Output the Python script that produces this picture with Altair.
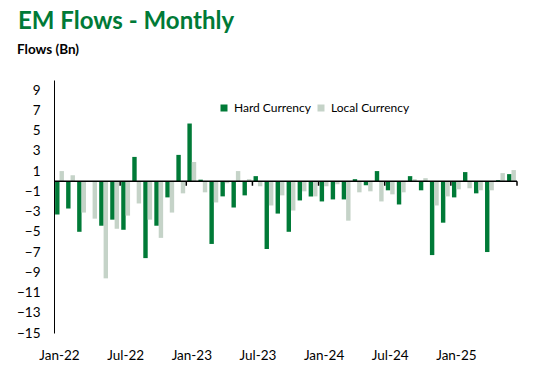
import altair as alt
import pandas as pd

months = ["Jan-22","Feb-22","Mar-22","Apr-22","May-22","Jun-22","Jul-22","Aug-22","Sep-22","Oct-22","Nov-22","Dec-22",
          "Jan-23","Feb-23","Mar-23","Apr-23","May-23","Jun-23","Jul-23","Aug-23","Sep-23","Oct-23","Nov-23","Dec-23",
          "Jan-24","Feb-24","Mar-24","Apr-24","May-24","Jun-24","Jul-24","Aug-24","Sep-24","Oct-24","Nov-24","Dec-24",
          "Jan-25","Feb-25","Mar-25","Apr-25","May-25","Jun-25"]
hard = [-3.3, -2.7, -5.0, 0.0, -4.4, -3.8, -4.8, 2.4, -7.6, -4.4, -1.6, 2.6,
        5.7, 0.15, -6.2, -1.5, -2.6, -1.4, 0.5, -6.7, -3.2, -5.0, -1.9, -1.5,
        -2.0, -1.8, -1.8, 0.2, -0.4, 1.0, -0.9, -2.3, 0.5, -0.9, -7.3, -4.1,
        -1.6, 0.9, -1.2, -7.0, 0.1, 0.7]
local = [1.0, 0.6, -3.1, -3.7, -9.6, -4.7, -3.4, -2.2, -3.8, -5.6, -3.1, -1.2,
         1.9, -1.1, -2.1, -0.2, 1.0, 0.2, -0.5, -2.4, -1.4, -2.9, -1.0, -1.5,
         -0.5, -0.3, -3.9, -1.1, -1.0, -2.0, -1.3, -1.1, 0.2, 0.3, -2.4, -1.5,
         -0.8, -0.7, -0.9, -0.9, 0.8, 1.1]
series = ["Hard Currency", "Local Currency"]
colors = ["#007A37", "#C5D3C8"]
y_ticks = [-15, -13, -11, -9, -7, -5, -3, -1, 1, 3, 5, 7, 9]
x_label_months = ["Jan-22", "Jul-22", "Jan-23", "Jul-23", "Jan-24", "Jul-24", "Jan-25"]
tick_positions = [6, 12, 18, 24, 30, 36, 42]

rows = []
for i, m in enumerate(months):
    rows.append({"month": m, "series": series[0], "value": hard[i]})
    rows.append({"month": m, "series": series[1], "value": local[i]})
df = pd.DataFrame(rows)

FONT = "Lato"
W, H = 463, 253

yscale = alt.Scale(domain=[-15, 10], nice=False, zero=False)
yaxis = alt.Axis(values=y_ticks, grid=False, ticks=False, domain=True, domainColor="#000000",
                 domainWidth=1, labelPadding=14, labelFontSize=13.5, labelColor="#000000",
                 labelFont=FONT, labelOverlap=False, labelBound=False, labelFlush=False)

bars = alt.Chart(df).mark_bar().encode(
    x=alt.X("month:N", sort=months, title=None,
            scale=alt.Scale(paddingInner=0.2, paddingOuter=0.1),
            axis=alt.Axis(values=x_label_months, domain=False, ticks=False, labelAngle=0,
                          labelPadding=15, labelFontSize=13.5, labelColor="#000000", labelFont=FONT)),
    xOffset=alt.XOffset("series:N", sort=series, scale=alt.Scale(paddingInner=0, paddingOuter=0)),
    y=alt.Y("value:Q", scale=yscale, title=None, axis=yaxis),
    color=alt.Color("series:N", sort=series, scale=alt.Scale(domain=series, range=colors),
                    legend=alt.Legend(orient="none", legendX=164, legendY=22, direction="horizontal",
                                      title=None, symbolType="square", symbolSize=49, symbolStrokeWidth=0,
                                      labelFontSize=12, labelFont=FONT, labelColor="#000000",
                                      labelOffset=4, columnPadding=4)),
)

zero = alt.Chart(pd.DataFrame({"z": [0]})).mark_rule(color="#000000", strokeWidth=1.5).encode(
    y=alt.Y("z:Q", scale=yscale, title=None, axis=yaxis)
)

ticks = alt.Chart(pd.DataFrame({"t": tick_positions, "a": [0] * 7, "b": [-0.45] * 7})).mark_rule(
    color="#000000", strokeWidth=1.5
).encode(
    x=alt.X("t:Q", scale=alt.Scale(domain=[0, 42], nice=False, zero=False), axis=None),
    y=alt.Y("a:Q", scale=yscale, title=None, axis=yaxis),
    y2="b:Q",
)

title = alt.Chart(pd.DataFrame({"t": ["EM Flows - Monthly"]})).mark_text(
    align="left", baseline="alphabetic", font=FONT, fontSize=24, fontWeight="bold", color="#007A37"
).encode(text="t:N", x=alt.value(-36), y=alt.value(-51))

subtitle = alt.Chart(pd.DataFrame({"t": ["Flows (Bn)"]})).mark_text(
    align="left", baseline="alphabetic", font=FONT, fontSize=13.5, fontWeight="bold", color="#000000"
).encode(text="t:N", x=alt.value(-37), y=alt.value(-26))

chart = alt.layer(bars, zero, ticks, title, subtitle).resolve_scale(x="independent").properties(
    width=W, height=H,
    autosize=alt.AutoSizeParams(type="none"),
    padding={"left": 46, "top": 72, "right": 8, "bottom": 30},
).configure_view(stroke=None)

chart.save("out.html", embed_options={"renderer": "svg", "actions": False})
